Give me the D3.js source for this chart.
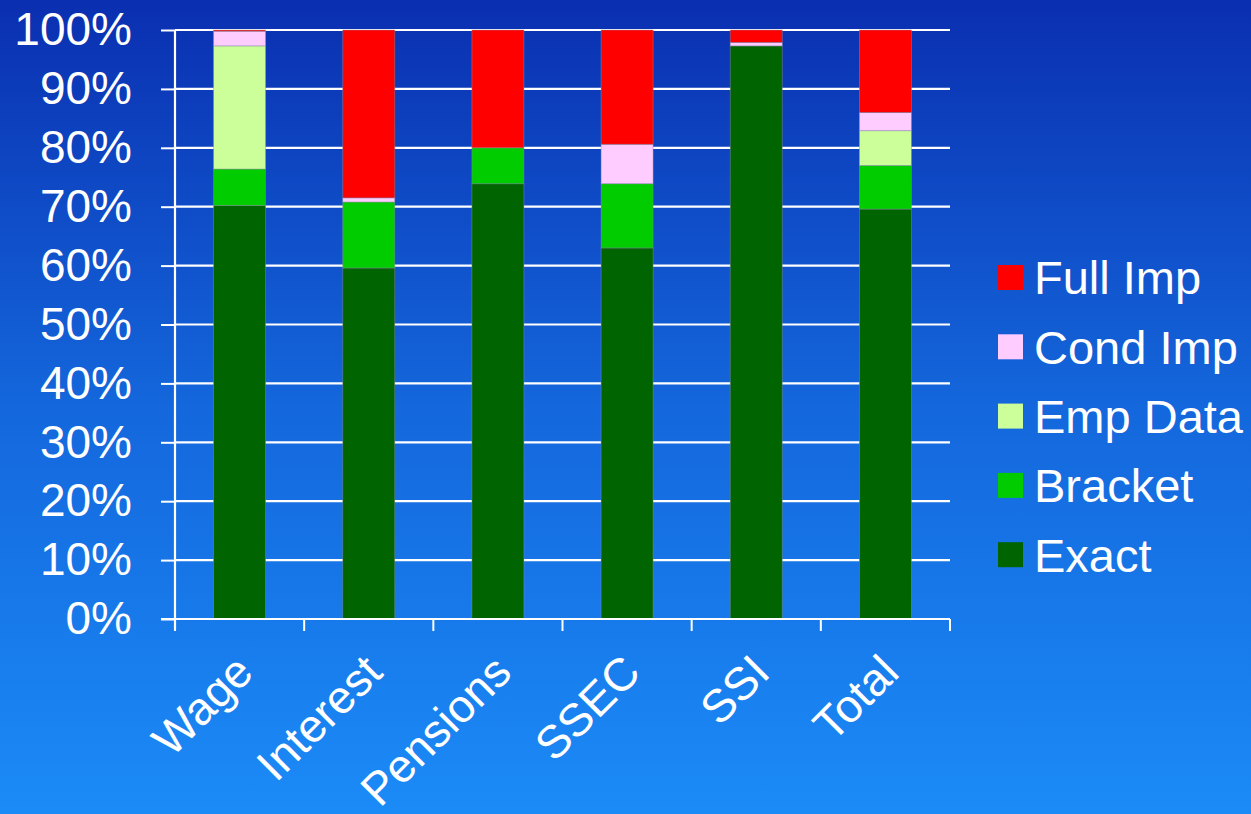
<!DOCTYPE html>
<html><head><meta charset="utf-8">
<script src="https://cdn.jsdelivr.net/npm/d3@7"></script>
<style>
html,body{margin:0;padding:0;width:1251px;height:814px;overflow:hidden;}
svg{display:block;}
text{font-family:"Liberation Sans",Arial,sans-serif;fill:#fff;}
</style></head>
<body>
<svg id="c" width="1251" height="814"></svg>
<script>
const categories = ["Wage","Interest","Pensions","SSEC","SSI","Total"];
const seriesNames = ["Exact","Bracket","Emp Data","Cond Imp","Full Imp"];
const exact   = [70.2, 59.6, 73.9, 63.0, 97.3, 69.6];
const bracket = [6.2, 11.2, 6.1, 10.9, 0.0, 7.4];
const empData = [20.9, 0.0, 0.0, 0.0, 0.0, 5.9];
const condImp = [2.5, 0.7, 0.0, 6.7, 0.6, 3.1];
const fullImp = [0.2, 28.5, 20.0, 19.4, 2.1, 14.0];
const yTicks = [0,10,20,30,40,50,60,70,80,90,100];
const colors = ["#006400","#00cc00","#ccff99","#ffccff","#ff0000"];

const seriesVals = [exact, bracket, empData, condImp, fullImp];
const rows = categories.map((c,i)=>{
  const r = {cat:c};
  seriesNames.forEach((s,k)=> r[s]=seriesVals[k][i]);
  return r;
});

const svg = d3.select("#c");
const defs = svg.append("defs");
const grad = defs.append("linearGradient").attr("id","bg").attr("x1",0).attr("y1",0).attr("x2",0).attr("y2",1);
grad.append("stop").attr("offset","0%").attr("stop-color","#0a2fb0");
grad.append("stop").attr("offset","50%").attr("stop-color","#1467dc");
grad.append("stop").attr("offset","100%").attr("stop-color","#1b8bf7");
svg.append("rect").attr("width",1251).attr("height",814).attr("fill","url(#bg)");

const L=175, R=950, T=30, B=619;
const x = d3.scaleBand().domain(categories).range([L,R]).paddingInner(0).paddingOuter(0);
const y = d3.scaleLinear().domain([0,100]).range([B,T]);

// grid
svg.append("g").selectAll("line").data(yTicks.filter(d=>d>0)).join("line")
  .attr("x1",L).attr("x2",R).attr("y1",d=>y(d)).attr("y2",d=>y(d))
  .attr("stroke","#fff").attr("stroke-width",2.2);

// bars
const stack = d3.stack().keys(seriesNames)(rows);
const bw = 52;
svg.append("g").selectAll("g").data(stack).join("g")
  .attr("fill",(d,i)=>colors[i])
  .selectAll("rect").data(d=>d.filter(p=>p[1]-p[0]>0)).join("rect")
  .attr("x",d=>x(d.data.cat)+x.bandwidth()/2-bw/2)
  .attr("width",bw)
  .attr("y",d=>y(d[1]))
  .attr("height",d=>y(d[0])-y(d[1]))
  .attr("stroke","rgba(140,140,160,0.55)").attr("stroke-width",0.8);

// y axis
const ya = svg.append("g").attr("transform",`translate(${L},0)`)
  .call(d3.axisLeft(y).tickValues(yTicks).tickFormat(d=>d+"%").tickSize(14).tickPadding(29));
ya.select(".domain").attr("stroke","#fff").attr("stroke-width",2.2).attr("d",`M0,${B+11}V${T}`);
ya.selectAll(".tick line").attr("stroke","#fff").attr("stroke-width",2);
ya.selectAll(".tick text").style("font-size","46px").attr("fill","#fff");

// x axis
const xa = svg.append("g").attr("transform",`translate(0,${B})`)
  .call(d3.axisBottom(x).tickSize(0).tickPadding(0));
xa.select(".domain").attr("stroke","#fff").attr("stroke-width",2.2).attr("d",`M${L-14},0H${R}`);
xa.selectAll(".tick text")
  .style("font-size","46px").attr("fill","#fff")
  .attr("text-anchor","end")
  .attr("transform",`translate(-7,33) rotate(-45)`)
  .attr("dy","0.7em").attr("y",0);
const edges = d3.range(categories.length+1).map(i=>L+i*x.step());
xa.append("g").selectAll("line").data(edges).join("line")
  .attr("x1",d=>d).attr("x2",d=>d).attr("y1",0).attr("y2",12)
  .attr("stroke","#fff").attr("stroke-width",2);

// legend
const legendOrder = ["Full Imp","Cond Imp","Emp Data","Bracket","Exact"];
const lg = svg.append("g").selectAll("g").data(legendOrder).join("g")
  .attr("transform",(d,i)=>`translate(998,${265+i*69.3})`);
lg.append("rect").attr("width",25).attr("height",25)
  .attr("fill",d=>colors[seriesNames.indexOf(d)]);
lg.append("text").attr("x",36).attr("y",12.5).attr("dy","0.36em")
  .style("font-size","47px").text(d=>d);
</script>
</body></html>
